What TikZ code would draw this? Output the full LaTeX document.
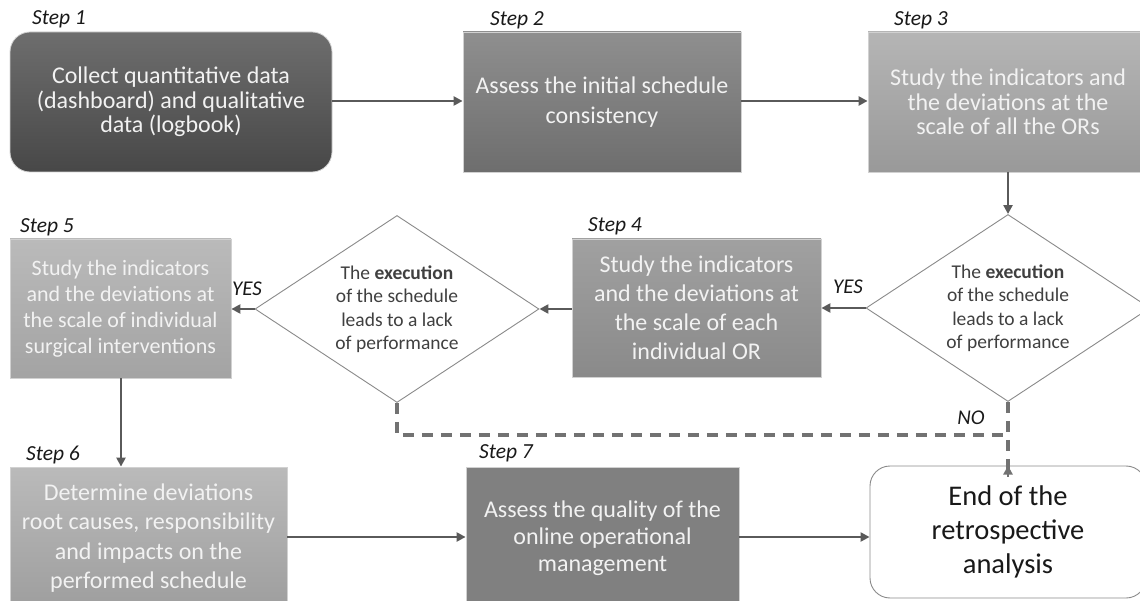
\documentclass[tikz,border=0pt]{standalone}
\usepackage{fontspec}
\setmainfont{Carlito}
\usetikzlibrary{arrows.meta,shapes.geometric,shadings}
\definecolor{arrowgray}{HTML}{5A5A5A}
\definecolor{dashgray}{HTML}{727272}
\definecolor{edgegray}{HTML}{8A8A8A}
\definecolor{boxtext}{HTML}{F2F2F2}
\definecolor{dtext}{HTML}{404040}
\tikzset{
  stepbox/.style={rectangle, inner sep=0pt, align=center, text=boxtext,
    draw=white!82!black, line width=0.8pt},
  steplabel/.style={font=\fontsize{21.5}{21.5}\selectfont\itshape, text=black!90, inner sep=0pt},
  decision/.style={diamond, draw=edgegray, line width=0.9pt, fill=white, inner sep=0pt,
    minimum width=284pt, minimum height=187pt},
  dectext/.style={align=center, text=dtext, inner sep=0pt,
    font=\fontsize{19.5}{23.5}\selectfont},
  flow/.style={draw=arrowgray, line width=2.7pt, -{Triangle[length=9pt,width=9pt]}},
  dashflow/.style={draw=dashgray, line width=3.2pt, dash pattern=on 11pt off 8pt},
  answer/.style={font=\fontsize{21}{21}\selectfont\itshape, text=black!90, inner sep=0pt}
}
\begin{document}
\begin{tikzpicture}[x=1pt,y=-1pt]
\useasboundingbox (0,0) rectangle (1140,601);

% Row 1
\node[stepbox, rounded corners=20pt, minimum width=322pt, minimum height=140pt,
  top color=black!57, bottom color=black!72,
  font=\fontsize{24}{24.3}\selectfont] (s1) at (171,102)
  {Collect quantitative data\\(dashboard) and qualitative\\data (logbook)};
\node[stepbox, minimum width=278pt, minimum height=140pt,
  top color=black!44, bottom color=black!57,
  font=\fontsize{24}{30}\selectfont] (s2) at (602,102)
  {Assess the initial schedule\\consistency};
\node[stepbox, minimum width=280pt, minimum height=140pt,
  top color=black!29, bottom color=black!40,
  font=\fontsize{24}{24.3}\selectfont] (s3) at (1008,102)
  {Study the indicators and\\the deviations at the\\scale of all the ORs};

% Row 2
\node[decision] (d1) at (1008,308) {};
\node[dectext] (d1t) at (d1.center)
  {The \textbf{execution}\\of the schedule\\leads to a lack\\of performance};
\node[stepbox, minimum width=249pt, minimum height=138pt,
  top color=black!37, bottom color=black!46,
  font=\fontsize{24}{29}\selectfont] (s4) at (696.5,308)
  {Study the indicators\\and the deviations at\\the scale of each\\individual OR};
\node[decision] (d2) at (397,309) {};
\node[dectext] (d2t) at (d2.center)
  {The \textbf{execution}\\of the schedule\\leads to a lack\\of performance};
\node[stepbox, minimum width=221pt, minimum height=139pt,
  top color=black!27, bottom color=black!36,
  font=\fontsize{22}{26}\selectfont] (s5) at (120.5,308.5)
  {Study the indicators\\and the deviations at\\the scale of individual\\surgical interventions};

% Row 3
\node[stepbox, minimum width=277pt, minimum height=142pt,
  top color=black!27, bottom color=black!38,
  font=\fontsize{24}{29.5}\selectfont] (s6) at (148.5,538)
  {Determine deviations\\root causes, responsibility\\and impacts on the\\performed schedule};
\node[stepbox, minimum width=273pt, minimum height=142pt,
  fill=black!50,
  font=\fontsize{24}{27}\selectfont] (s7) at (602.5,538)
  {Assess the quality of the\\online operational\\management};
\node[rectangle, rounded corners=20pt, draw=edgegray, line width=0.9pt, fill=white,
  minimum width=276pt, minimum height=132pt, inner sep=0pt, align=center,
  text=black!90, font=\fontsize{28.5}{34}\selectfont] (endn) at (1008,532)
  {End of the\\retrospective\\analysis};

% Step labels
\node[steplabel] (l1) at (59,19) {Step 1};
\node[steplabel] (l2) at (517,20) {Step 2};
\node[steplabel] (l3) at (921,20) {Step 3};
\node[steplabel] (l4) at (615,226) {Step 4};
\node[steplabel] (l5) at (47,227) {Step 5};
\node[steplabel] (l6) at (53,455) {Step 6};
\node[steplabel] (l7) at (506,453) {Step 7};

% Connectors
\draw[flow] (s1.east |- 0,101) -- (s2.west |- 0,101);
\draw[flow] (s2.east |- 0,101) -- (s3.west |- 0,101);
\draw[flow] (s3.south) -- (d1.north);
\draw[flow] (d1.west) -- (s4.east |- d1.west);
\draw[flow] (s4.west |- d2.east) -- (d2.east);
\draw[flow] (d2.west) -- (s5.east |- d2.west);
\draw[flow] (s5.south -| 121,0) -- (s6.north -| 121,0);
\draw[flow] (s6.east |- 0,537) -- (s7.west |- 0,537);
\draw[flow] (s7.east |- 0,537) -- (endn.west |- 0,537);

\coordinate (join) at (1008,435);
\draw[dashflow] (d2.south) |- (join);
\draw[dashflow] (d1.south) -- ([yshift=-10pt]endn.north);
\draw[draw=dashgray, line width=2.7pt, -{Triangle[length=9pt,width=9pt]}]
  ([yshift=-11pt]endn.north) -- (endn.north);

% Answers
\node[answer] (yes1) at (848,287) {YES};
\node[answer] (yes2) at (247,289) {YES};
\node[answer] (no1) at (971,418) {NO};
\end{tikzpicture}
\end{document}
